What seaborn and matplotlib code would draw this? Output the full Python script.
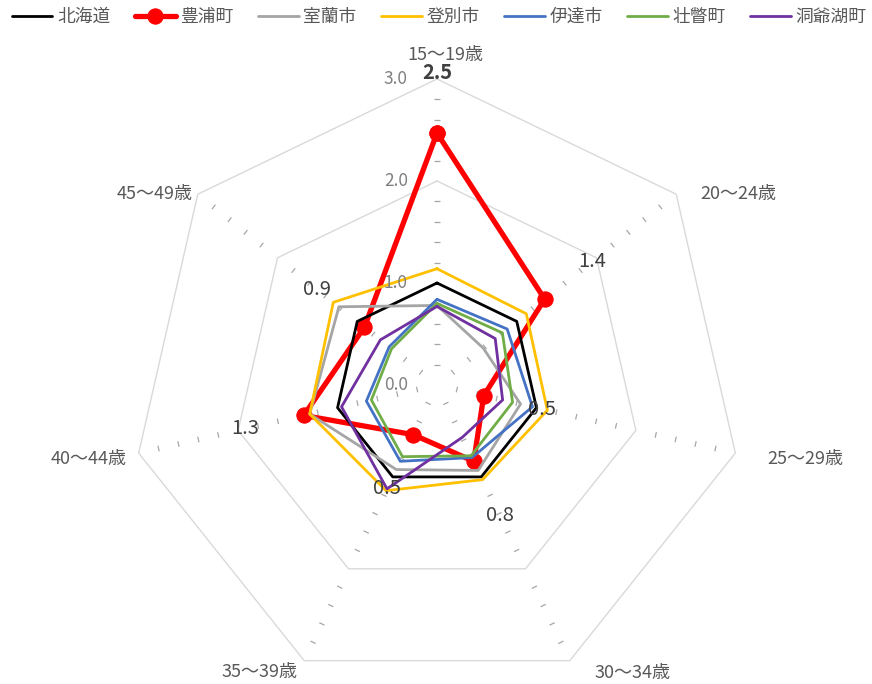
import numpy as np
import pandas as pd
import matplotlib
matplotlib.use('Agg')
import matplotlib.pyplot as plt
import seaborn as sns

# ---------------- data ----------------
categories = ['15～19歳', '20～24歳', '25～29歳', '30～34歳', '35～39歳', '40～44歳', '45～49歳']
series_names = ['北海道', '豊浦町', '室蘭市', '登別市', '伊達市', '壮瞥町', '洞爺湖町']
hokkaido = [1.00, 1.00, 1.00, 1.00, 1.00, 1.00, 1.00]
toyoura = [2.47, 1.35, 0.47, 0.83, 0.54, 1.34, 0.91]
muroran = [0.78, 0.58, 0.84, 0.93, 0.92, 1.28, 1.23]
noboribetsu = [1.14, 1.12, 1.11, 1.03, 1.15, 1.28, 1.30]
date_city = [0.84, 0.88, 0.96, 0.79, 0.83, 0.71, 0.60]
sobetsu = [0.80, 0.82, 0.76, 0.77, 0.78, 0.66, 0.57]
toyako = [0.77, 0.73, 0.66, 0.57, 1.13, 0.96, 0.71]
toyoura_labels = ['2.5', '1.4', '0.5', '0.8', '0.5', '1.3', '0.9']
radial_ticks = [0.0, 1.0, 2.0, 3.0]
radial_tick_labels = ['0.0', '1.0', '2.0', '3.0']

series_values = [hokkaido, toyoura, muroran, noboribetsu, date_city, sobetsu, toyako]
colors = ['#000000', '#FF0000', '#A5A5A5', '#FFC000', '#4472C4', '#70AD47', '#7030A0']

# ---------------- style ----------------
sns.set_theme(style='white')
plt.rcParams['font.family'] = ['Noto Sans CJK JP', 'DejaVu Sans']

n = len(categories)
theta = np.linspace(0, 2 * np.pi, n, endpoint=False)
theta_closed = np.append(theta, 2 * np.pi)

rows = []
for name, vals in zip(series_names, series_values):
    for t, v in zip(theta_closed, list(vals) + [vals[0]]):
        rows.append({'series': name, 'theta': t, 'value': v})
df = pd.DataFrame(rows)

W, H = 872, 684
fig = plt.figure(figsize=(W / 100, H / 100), dpi=100)
cx, cy, R = 437, 385, 306
ax = fig.add_axes([(cx - R) / W, (H - cy - R) / H, 2 * R / W, 2 * R / H], projection='polar')
ax.set_theta_zero_location('N')
ax.set_theta_direction(-1)
ax.set_ylim(0, 3.0)
ax.grid(False)
ax.spines['polar'].set_visible(False)
ax.set_xticks([])
ax.set_yticks([])
ax.patch.set_alpha(0)

# polygon gridlines
for r in [1.0, 2.0, 3.0]:
    ax.plot(theta_closed, [r] * (n + 1), color='#D9D9D9', lw=1.0, zorder=1, clip_on=False)

# minor tick dashes along spokes
h = 0.028
for t in theta:
    for k in range(1, 16):
        r = 0.2 * k
        if abs(r - round(r)) < 1e-6:
            continue
        d = np.arctan(h / r)
        rr = np.hypot(r, h)
        ax.plot([t - d, t + d], [rr, rr], color='#A6A6A6', lw=0.9, zorder=1,
                solid_capstyle='butt')

# series
for name, col in zip(series_names, colors):
    sub = df[df['series'] == name]
    if name == '豊浦町':
        sns.lineplot(data=sub, x='theta', y='value', ax=ax, color=col, lw=3.8,
                     sort=False, estimator=None, label=name, marker='o',
                     markersize=11, markeredgecolor=col, zorder=3)
    else:
        sns.lineplot(data=sub, x='theta', y='value', ax=ax, color=col, lw=2.0,
                     sort=False, estimator=None, label=name, zorder=4)
ax.set_xlabel('')
ax.set_ylabel('')

# data labels for 豊浦町
for t, v, lab in zip(theta, toyoura, toyoura_labels):
    ax.text(t, v + 0.59, lab, ha='center', va='center', fontsize=14.5,
            color='#404040', fontweight='bold' if lab == '2.5' else 'normal', zorder=6)

# radial tick labels
for r, lab in zip(radial_ticks, radial_tick_labels):
    ax.annotate(lab, xy=(0, r), xytext=(-21, 0), textcoords='offset points',
                ha='right', va='center', fontsize=12.5, color='#808080',
                annotation_clip=False, zorder=5)

# category labels
offsets = [((6, 17), 'center'), ((17, 0), 'left'), ((23, -4), 'left'), ((18, -9), 'left'),
           ((-5, -8), 'right'), ((-9, -4), 'right'), ((-4, 0), 'right')]
for t, lab, (off, ha) in zip(theta, categories, offsets):
    ax.annotate(lab, xy=(t, 3.0), xytext=off, textcoords='offset points',
                ha=ha, va='center', fontsize=13, color='#595959',
                annotation_clip=False)

handles, labels = ax.get_legend_handles_labels()
if ax.get_legend() is not None:
    ax.get_legend().remove()
fig.legend(handles, labels, loc='upper left', bbox_to_anchor=(0.0, 1.005), ncol=7,
           frameon=False, fontsize=12.8, handlelength=2.3, handletextpad=0.25,
           columnspacing=1.38, labelcolor='#595959', borderaxespad=0.25)

fig.savefig('out.png', dpi=100, facecolor='white')
